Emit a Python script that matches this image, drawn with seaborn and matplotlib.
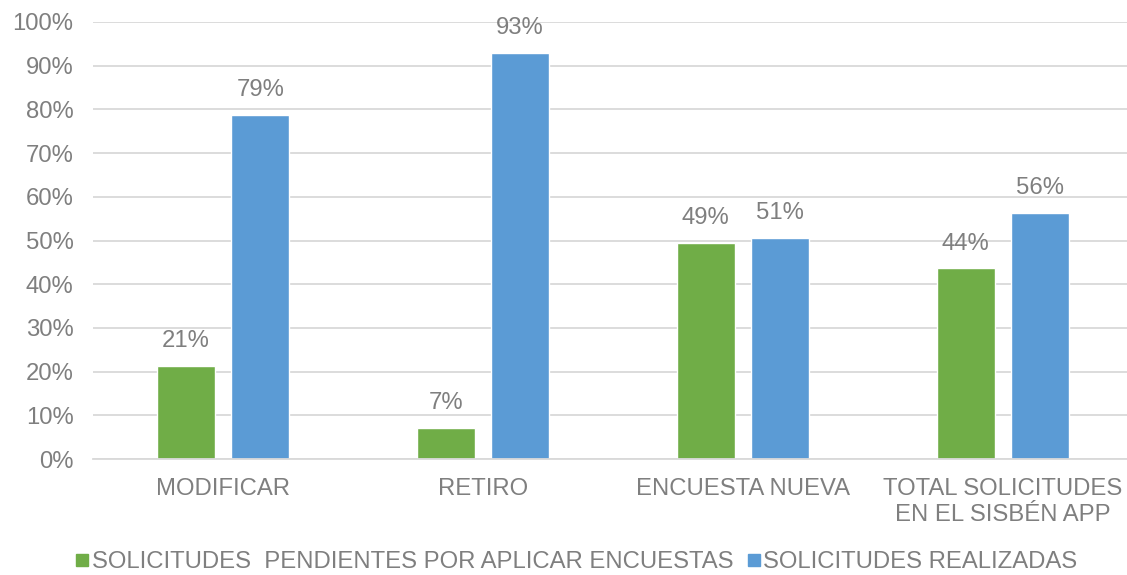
import matplotlib
matplotlib.use("Agg")
import matplotlib.pyplot as plt
import seaborn as sns
import pandas as pd
from matplotlib.lines import Line2D

categorias = ["MODIFICAR", "RETIRO", "ENCUESTA NUEVA", "TOTAL SOLICITUDES\nEN EL SISBÉN APP"]
pendientes = [21.3, 7.1, 49.4, 43.6]
realizadas = [78.7, 92.9, 50.6, 56.4]
series = ["SOLICITUDES  PENDIENTES POR APLICAR ENCUESTAS", "SOLICITUDES REALIZADAS"]
colores = ["#70AD47", "#5B9BD5"]

df = pd.DataFrame({
    "Categoria": categorias * 2,
    "Valor": pendientes + realizadas,
    "Serie": [series[0]] * 4 + [series[1]] * 4,
})

sns.set_theme(style="white")
plt.rcParams["font.family"] = ["Liberation Sans", "DejaVu Sans"]
gris = "#7F7F7F"
fs = 17.2

fig = plt.figure(figsize=(11.27, 5.75), dpi=100)
ax = fig.add_axes([93 / 1127, 116 / 575, 1040 / 1127, 437 / 575])
ax.set_axisbelow(True)
ax.yaxis.grid(True, color="#D9D9D9", linewidth=1.3)

sns.barplot(data=df, x="Categoria", y="Valor", hue="Serie", palette=colores,
            width=0.573, gap=0.22, ax=ax, legend=False, saturation=1)

for cont in ax.containers:
    ax.bar_label(cont, labels=[f"{v:.0f}%" for v in cont.datavalues],
                 padding=10, color=gris, fontsize=fs)

ax.set_ylim(0, 100)
ax.set_xlim(-0.5, 3.5)
ax.set_yticks(range(0, 101, 10))
ax.set_yticklabels([f"{v}%" for v in range(0, 101, 10)])
ax.tick_params(axis="both", colors=gris, labelsize=fs, length=0)
ax.tick_params(axis="x", pad=14)
ax.tick_params(axis="y", pad=14)
ax.set_xlabel("")
ax.set_ylabel("")
for s in ["top", "right", "left"]:
    ax.spines[s].set_visible(False)
ax.spines["bottom"].set_color("#D9D9D9")
ax.spines["bottom"].set_linewidth(1.3)

handles = [Line2D([0], [0], marker="s", color="none", markerfacecolor=c,
                  markeredgecolor=c, markersize=8) for c in colores]
leg = fig.legend(handles, series, loc="center", bbox_to_anchor=(0.512, 0.022),
                 ncol=2, frameon=False, fontsize=fs, handlelength=0.5,
                 handletextpad=0.15, columnspacing=0.6, labelcolor=gris,
                 borderpad=0.1)

fig.savefig("out.png", dpi=100)
